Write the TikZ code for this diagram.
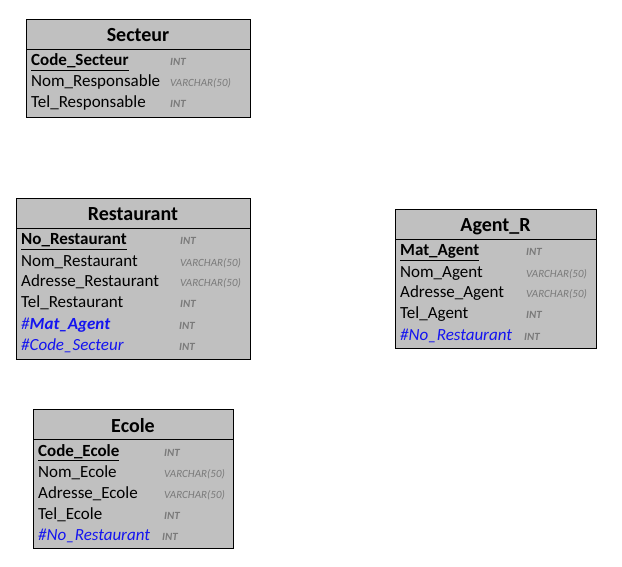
\documentclass[tikz,border=0pt]{standalone}
\usepackage{fontspec}
\setmainfont{Carlito}
\definecolor{boxgray}{HTML}{C0C0C0}
\definecolor{fkblue}{HTML}{1414F0}
\definecolor{typegray}{HTML}{7A7A7A}
\tikzstyle{table}=[draw=black, fill=boxgray, line width=1pt, anchor=north west, inner sep=0pt]
\tikzstyle{title}=[font=\fontsize{20}{20}\selectfont\bfseries, anchor=base, inner sep=0pt]
\tikzstyle{field}=[font=\fontsize{17}{17}\selectfont, anchor=base west, inner sep=0pt]
\tikzstyle{key}=[field, font=\fontsize{17}{17}\selectfont\bfseries]
\tikzstyle{fkey}=[field, text=fkblue, font=\fontsize{17}{17}\selectfont\itshape]
\tikzstyle{type}=[font=\fontsize{11}{11}\selectfont\itshape, text=typegray, anchor=base west, inner sep=0pt]

\begin{document}
\begin{tikzpicture}[x=1pt, y=-1pt]
\useasboundingbox (0,0) rectangle (622,567);

% Secteur
\node [table, minimum width=224, minimum height=98] (S) at (26,19) {};
\draw (26,49) -- (250,49);
\node [title] (St) at (138,42) {Secteur};
\node [key] (S1) at (31,66) {\underline{Code\_Secteur}};
\node [field] (S2) at (31,87) {Nom\_Responsable};
\node [field] (S3) at (31,108) {Tel\_Responsable};
\node [type] (S1t) at (170,66) {\bfseries INT};
\node [type] (S2t) at (170,87) {VARCHAR(50)};
\node [type] (S3t) at (170,108) {\bfseries INT};

% Restaurant
\node [table, minimum width=234, minimum height=161] (R) at (16,198) {};
\draw (16,228) -- (250,228);
\node [title] (Rt) at (133,221) {Restaurant};
\node [key] (R1) at (21,245) {\underline{No\_Restaurant}};
\node [field] (R2) at (21,266) {Nom\_Restaurant};
\node [field] (R3) at (21,287) {Adresse\_Restaurant};
\node [field] (R4) at (21,308) {Tel\_Restaurant};
\node [fkey] (R5) at (21,329) {\#\textbf{Mat\_Agent}};
\node [fkey] (R6) at (21,350) {\#Code\_Secteur};
\node [type] (R1t) at (180,245) {\bfseries INT};
\node [type] (R2t) at (180,266) {VARCHAR(50)};
\node [type] (R3t) at (180,287) {VARCHAR(50)};
\node [type] (R4t) at (180,308) {\bfseries INT};
\node [type] (R5t) at (179,329) {\bfseries INT};
\node [type] (R6t) at (179,350) {\bfseries INT};

% Agent_R
\node [table, minimum width=201, minimum height=139] (A) at (395,209) {};
\draw (395,239) -- (596,239);
\node [title] (At) at (495.5,232) {Agent\_R};
\node [key] (A1) at (400,256) {\underline{Mat\_Agent}};
\node [field] (A2) at (400,277) {Nom\_Agent};
\node [field] (A3) at (400,298) {Adresse\_Agent};
\node [field] (A4) at (400,319) {Tel\_Agent};
\node [fkey] (A5) at (400,340) {\#No\_Restaurant};
\node [type] (A1t) at (526,256) {\bfseries INT};
\node [type] (A2t) at (526,277) {VARCHAR(50)};
\node [type] (A3t) at (526,298) {VARCHAR(50)};
\node [type] (A4t) at (526,319) {\bfseries INT};
\node [type] (A5t) at (524,340) {\bfseries INT};

% Ecole
\node [table, minimum width=200, minimum height=139] (E) at (33,409) {};
\draw (33,439) -- (233,439);
\node [title] (Et) at (133,432) {Ecole};
\node [key] (E1) at (38,456) {\underline{Code\_Ecole}};
\node [field] (E2) at (38,477) {Nom\_Ecole};
\node [field] (E3) at (38,498) {Adresse\_Ecole};
\node [field] (E4) at (38,519) {Tel\_Ecole};
\node [fkey] (E5) at (38,540) {\#No\_Restaurant};
\node [type] (E1t) at (164,456) {\bfseries INT};
\node [type] (E2t) at (164,477) {VARCHAR(50)};
\node [type] (E3t) at (164,498) {VARCHAR(50)};
\node [type] (E4t) at (164,519) {\bfseries INT};
\node [type] (E5t) at (162,540) {\bfseries INT};

\end{tikzpicture}
\end{document}
